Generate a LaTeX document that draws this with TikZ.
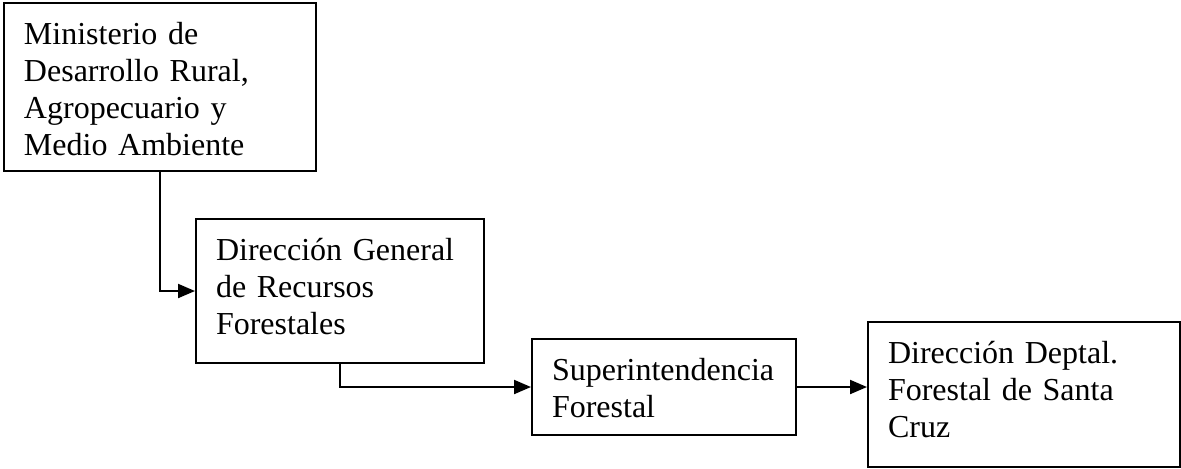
\documentclass[tikz,border=0pt]{standalone}
\usepackage{fontspec}
\setmainfont{Liberation Serif}
\usetikzlibrary{arrows.meta}
\tikzset{
  caja/.style={draw, line width=1pt, anchor=north west, inner xsep=10pt, inner ysep=0pt,
    align=left, text height=20.6pt, font=\fontsize{16}{18.5}\selectfont},
  flecha/.style={line width=1pt, -{Triangle[length=8.5pt,width=7pt]}}
}
\begin{document}
\begin{tikzpicture}[x=0.5pt,y=-0.5pt]
    \useasboundingbox (0,0) rectangle (1181,468);
    \node[caja, text width=136pt, text depth=63.4pt] (ministerio) at (3,2) {Ministerio de\\Desarrollo Rural,\\Agropecuario y\\Medio Ambiente};
    \node[caja, text width=124pt, text depth=51.4pt] (direccion) at (195,218) {Dirección General\\de Recursos\\Forestales};
    \node[caja, text width=112pt, text depth=27.4pt] (super) at (531,338) {Superintendencia\\Forestal};
    \node[caja, text width=136pt, text depth=51.9pt] (deptal) at (867,321) {Dirección Deptal.\\Forestal de Santa\\Cruz};
    \draw[flecha] (ministerio.south) |- (direccion.west);
    \draw[flecha] (direccion.south) |- (super.west);
    \draw[flecha] (super.east) -- (super.east -| deptal.west); % misma altura
\end{tikzpicture}
\end{document}
